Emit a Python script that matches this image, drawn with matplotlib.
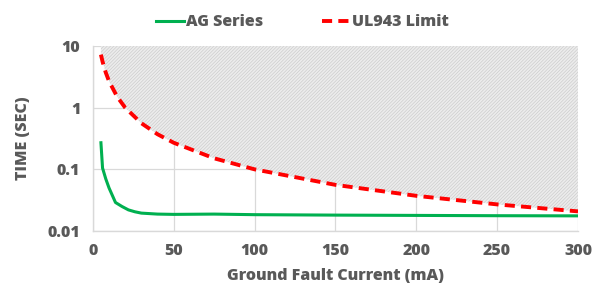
import numpy as np
import matplotlib
matplotlib.use("Agg")
import matplotlib.pyplot as plt
from matplotlib.ticker import FixedLocator, NullLocator

# Values
ag_current = [5, 6, 8, 10, 14, 18, 22, 26, 30, 40, 50, 75, 100, 150, 200, 250, 300]
ag_time = [0.27, 0.105, 0.07, 0.05, 0.029, 0.025, 0.022, 0.0205, 0.0195, 0.0188, 0.0186, 0.0188, 0.0184, 0.0181, 0.0179, 0.0177, 0.0176]

ul_current = [5, 6, 8, 10, 15, 20, 30, 40, 50, 75, 100, 150, 200, 250, 300]
ul_time = [7.26, 5.59, 3.71, 2.69, 1.51, 1.0, 0.56, 0.371, 0.27, 0.151, 0.10, 0.056, 0.0372, 0.027, 0.0208]

x_ticks = [0, 50, 100, 150, 200, 250, 300]
y_ticks = [0.01, 0.1, 1, 10]
y_tick_labels = ["0.01", "0.1", "1", "10"]

plt.rcParams['font.family'] = ['Open Sans', 'DejaVu Sans']
plt.rcParams['hatch.linewidth'] = 0.5
text_color = "#595959"
grid_color = "#d9d9d9"
weight = "heavy"

fig = plt.figure(figsize=(5.99, 2.89), dpi=100)
ax = fig.add_axes([0.155, 0.2007, 0.81, 0.64])

# Hatched region above the limit curve
ax.fill_between(ul_current, ul_time, 10, facecolor="#ececec", edgecolor="#cdcdcd",
                hatch="//////////", linewidth=0, zorder=1)

ax.plot(ag_current, ag_time, color="#00b050", lw=2.2, label="AG Series", zorder=3)
ax.plot(ul_current, ul_time, color="#ff0000", lw=2.8, dashes=(2.6, 1.6),
        label="UL943 Limit", zorder=3)

ax.set_yscale("log")
ax.set_xlim(0, 300)
ax.set_ylim(0.01, 10)
ax.xaxis.set_major_locator(FixedLocator(x_ticks))
ax.yaxis.set_major_locator(FixedLocator(y_ticks))
ax.yaxis.set_minor_locator(NullLocator())
ax.set_yticklabels(y_tick_labels)

ax.grid(True, color=grid_color, lw=0.9, zorder=0)
ax.set_axisbelow(True)
for s in ["top", "right"]:
    ax.spines[s].set_visible(False)
for s in ["left", "bottom"]:
    ax.spines[s].set_color(grid_color)
    ax.spines[s].set_linewidth(1.0)

ax.tick_params(length=0, pad=9, labelsize=11.5, labelcolor=text_color)
for lab in ax.get_xticklabels() + ax.get_yticklabels():
    lab.set_fontweight(weight)

ax.set_xlabel("Ground Fault Current (mA)", fontsize=11.5, fontweight=weight,
              color=text_color, labelpad=6)
ax.set_ylabel("TIME (SEC)", fontsize=11.5, fontweight=weight, color=text_color, labelpad=12)

leg = fig.legend(loc="upper center", bbox_to_anchor=(0.505, 1.0), ncol=2, frameon=False,
                 handlelength=1.75, handletextpad=0.1, columnspacing=3.7,
                 prop={"size": 11.5, "weight": weight})
for t in leg.get_texts():
    t.set_color(text_color)

plt.savefig("out.png", dpi=100)
